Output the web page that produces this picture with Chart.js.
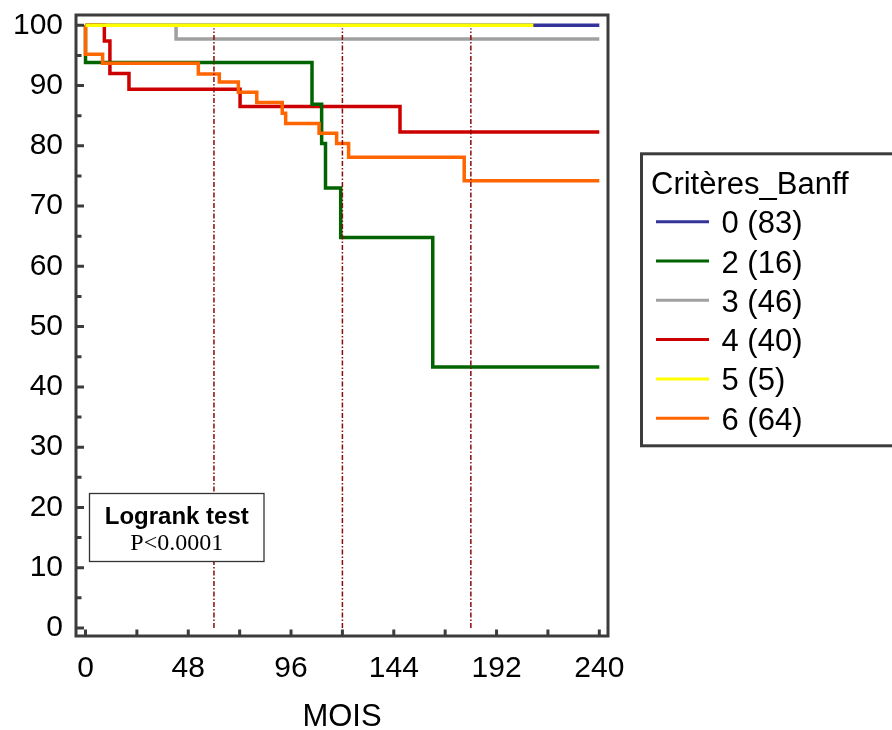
<!DOCTYPE html>
<html>
<head>
<meta charset="utf-8">
<script src="https://cdn.jsdelivr.net/npm/chart.js@4.4.1/dist/chart.umd.min.js"></script>
<style>
  html, body { margin: 0; padding: 0; background: #ffffff; }
  #wrap { width: 892px; height: 730px; position: relative; }
</style>
</head>
<body>
<div id="wrap"><canvas id="c" width="892" height="730"></canvas></div>
<script>
// ---- data ----
const legendTitle = 'Critères_Banff';
const groupLabels = ['0 (83)', '2 (16)', '3 (46)', '4 (40)', '5 (5)', '6 (64)'];

// Kaplan-Meier steps: event times (months) and survival (%)
const times0 = [0, 240];
const surv0  = [100, 100];
const times2 = [0, 0, 105.8, 110.3, 112.1, 119.2, 162.2, 240];
const surv2  = [100, 93.8, 86.9, 80.4, 73.0, 64.8, 43.3, 43.3];
const times3 = [0, 42.3, 240];
const surv3  = [100, 97.7, 97.7];
const times4 = [0, 8.8, 11.4, 20.3, 72.2, 146.9, 240];
const surv4  = [100, 97.4, 92.0, 89.4, 86.5, 82.3, 82.3];
const times5 = [0, 209.2];
const surv5  = [100, 100];
const times6 = [0, 0, 8.0, 52.7, 62.5, 71.4, 80.0, 91.9, 93.5, 109.1, 117.3, 122.9, 176.9, 240];
const surv6  = [100, 95.2, 93.7, 91.9, 90.6, 88.9, 87.2, 85.4, 83.7, 82.1, 80.4, 78.1, 74.2, 74.2];

// vertical reference lines (months) and their extent (%)
const refTimes = [60, 120, 180];
const refRange = [0, 99.5];

// axis ticks
const xTickLabels = [0, 48, 96, 144, 192, 240];
const xTickMarks  = [0, 24, 48, 72, 96, 120, 144, 168, 192, 216, 240];
const yTickLabels = [0, 10, 20, 30, 40, 50, 60, 70, 80, 90, 100];
const yTickMarks  = [0, 5, 10, 15, 20, 25, 30, 35, 40, 45, 50, 55, 60, 65, 70, 75, 80, 85, 90, 95, 100];

const xTitle = 'MOIS';
const testTitle = 'Logrank test';
const testValue = 'P<0.0001';

// ---- styles ----
const colors = ['#333399', '#006400', '#a0a0a0', '#cc0000', '#ffff00', '#ff6600'];
const drawOrder = [5, 2, 4, 3, 0, 1]; // lower = on top
const refColor = '#8b0a0a';
const frameColor = '#3c3c3c';
const SANS = '"Liberation Sans", Arial, sans-serif';
const SERIF = '"Liberation Serif", "Times New Roman", serif';

const allTimes = [times0, times2, times3, times4, times5, times6];
const allSurv  = [surv0, surv2, surv3, surv4, surv5, surv6];

const datasets = groupLabels.map((lab, i) => ({
  label: lab,
  km: true,
  data: allTimes[i].map((t, j) => ({ x: t, y: allSurv[i][j] })),
  borderColor: colors[i],
  backgroundColor: colors[i],
  borderWidth: 3.5,
  stepped: 'before',
  pointRadius: 0,
  fill: false,
  borderJoinStyle: 'miter',
  borderCapStyle: 'butt',
  order: drawOrder[i]
}));

refTimes.forEach(t => {
  datasets.push({
    label: 'ref' + t,
    km: false,
    data: [{ x: t, y: refRange[0] }, { x: t, y: refRange[1] }],
    borderColor: refColor,
    borderWidth: 1.5,
    borderDash: [5, 2, 1.5, 2],
    pointRadius: 0,
    fill: false,
    order: -1
  });
});

const decor = {
  id: 'kmDecor',
  afterDatasetsDraw(chart) {
    const { ctx, chartArea: a, scales: { x, y } } = chart;
    ctx.save();
    // inward tick marks
    ctx.strokeStyle = frameColor;
    ctx.lineWidth = 3;
    ctx.lineCap = 'butt';
    ctx.beginPath();
    yTickMarks.forEach(v => {
      const py = y.getPixelForValue(v);
      const len = (v % 10 === 0) ? 8 : 5.5;
      ctx.moveTo(a.left, py);
      ctx.lineTo(a.left + len, py);
    });
    xTickMarks.forEach(v => {
      const px = x.getPixelForValue(v);
      ctx.moveTo(px, a.bottom);
      ctx.lineTo(px, a.bottom - 6.5);
    });
    ctx.stroke();
    // frame
    ctx.strokeRect(a.left, a.top, a.right - a.left, a.bottom - a.top);

    // logrank box (opaque, covers lines behind it)
    const bx = a.left + 13.5, by = a.top + 478.5, bw = 174.5, bh = 68;
    ctx.fillStyle = '#ffffff';
    ctx.fillRect(bx, by, bw, bh);
    ctx.lineWidth = 1.3;
    ctx.strokeStyle = '#333333';
    ctx.strokeRect(bx, by, bw, bh);
    ctx.fillStyle = '#000000';
    ctx.textAlign = 'center';
    ctx.textBaseline = 'alphabetic';
    ctx.font = 'bold 24px ' + SANS;
    ctx.fillText(testTitle, bx + bw / 2, by + 30);
    ctx.font = '24px ' + SERIF;
    ctx.fillText(testValue, bx + bw / 2, by + 56.5);

    // legend
    const lx = 641.5, ly = 153.8;
    ctx.lineWidth = 3;
    ctx.strokeStyle = frameColor;
    ctx.strokeRect(lx, ly, 270, 292);
    ctx.textAlign = 'left';
    ctx.font = '31px ' + SANS;
    ctx.fillStyle = '#000000';
    ctx.fillText(legendTitle, lx + 9.5, ly + 39.7);
    const items = chart.data.datasets.filter(d => d.km);
    items.forEach((d, i) => {
      const rowY = ly + 67.9 + i * 39.3;
      ctx.strokeStyle = d.borderColor;
      ctx.lineWidth = 3;
      ctx.beginPath();
      ctx.moveTo(lx + 14.5, rowY);
      ctx.lineTo(lx + 67.5, rowY);
      ctx.stroke();
      ctx.fillStyle = '#000000';
      ctx.fillText(d.label, lx + 80, rowY + 11.5);
    });
    ctx.restore();
  }
};

new Chart(document.getElementById('c'), {
  type: 'line',
  data: { datasets },
  plugins: [decor],
  options: {
    responsive: false,
    animation: false,
    devicePixelRatio: 1,
    parsing: true,
    layout: { padding: { left: 0, right: 284, top: 15, bottom: 0 } },
    plugins: { legend: { display: false }, tooltip: { enabled: false } },
    scales: {
      x: {
        type: 'linear',
        min: -4.44,
        max: 244.06,
        afterBuildTicks: s => { s.ticks = xTickLabels.map(v => ({ value: v })); },
        afterFit: s => { s.height = 94; s.paddingLeft = 0; s.paddingRight = 0; },
        grid: { display: false, drawTicks: false },
        border: { display: false },
        ticks: {
          font: { family: SANS, size: 30 },
          color: '#000000',
          padding: 15,
          maxRotation: 0,
          autoSkip: false
        },
        title: {
          display: true,
          text: xTitle,
          color: '#000000',
          font: { family: SANS, size: 31 },
          padding: { top: 0, bottom: -6 }
        }
      },
      y: {
        type: 'linear',
        min: -1.33,
        max: 101.7,
        afterBuildTicks: s => { s.ticks = yTickLabels.map(v => ({ value: v })); },
        afterFit: s => { s.width = 76; s.paddingTop = 0; s.paddingBottom = 0; },
        grid: { display: false, drawTicks: false },
        border: { display: false },
        ticks: {
          font: { family: SANS, size: 30 },
          color: '#000000',
          padding: 13,
          autoSkip: false
        }
      }
    }
  }
});
</script>
</body>
</html>
